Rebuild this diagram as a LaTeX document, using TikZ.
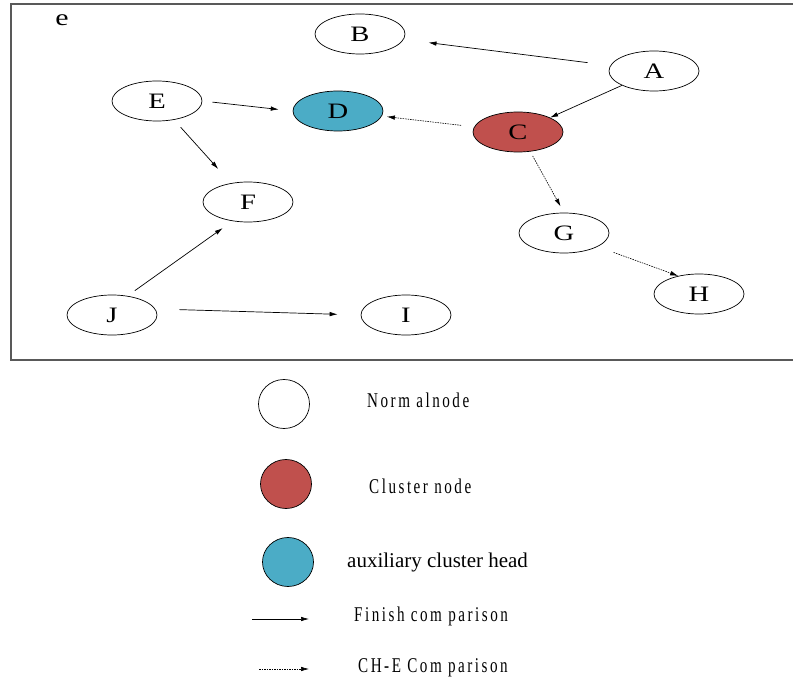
\documentclass[tikz,border=0pt]{standalone}
\usepackage{fontspec}
\setmainfont{Liberation Serif}
\newfontfamily\labelfont[FakeStretch=1.3]{Liberation Serif}
\newfontfamily\keyfont[FakeStretch=0.72,LetterSpace=12]{Liberation Serif}
\usetikzlibrary{arrows.meta}
\usetikzlibrary{shapes.geometric}

\definecolor{clusterred}{RGB}{192,80,77}
\definecolor{auxblue}{RGB}{75,172,198}

\tikzset{
  netnode/.style={draw, ellipse, minimum width=90pt, minimum height=40pt, inner sep=0pt,
    line width=0.7pt, font={\labelfont\fontsize{22}{22}\selectfont}},
  headnode/.style={netnode, fill=clusterred},
  auxnode/.style={netnode, fill=auxblue},
  keydot/.style={draw, ellipse, minimum width=51pt, minimum height=49pt, inner sep=0pt, line width=0.7pt},
  keytext/.style={anchor=west, inner sep=0pt, font={\keyfont\fontsize{21}{21}\selectfont}},
  done/.style={-{Latex[length=8pt,width=4.5pt]}, line width=0.7pt},
  cmp/.style={done, dash pattern=on 1.5pt off 1pt, line width=0.6pt},
}

\begin{document}
\begin{tikzpicture}[x=1pt,y=-1pt]
                \useasboundingbox (0,0) rectangle (793,682);
                \draw[gray!70!black, line width=1.5pt] (793,4) -- (11,4) -- (11,360) -- (793,360);

                \node[font={\labelfont\fontsize{23}{23}\selectfont}] (tag) at (62,20) {e};

                \node[netnode] (A) at (654,71) {A};
                \node[netnode] (B) at (360,34) {B};
                \node[headnode] (C) at (518,132) {C};
                \node[auxnode] (D) at (338,111) {D};
                \node[netnode] (E) at (157,101) {E};
                \node[netnode] (F) at (248,202) {F};
                \node[netnode] (G) at (564,233) {G};
                \node[netnode] (H) at (699,294) {H};
                \node[netnode] (I) at (406,315) {I};
                \node[netnode] (J) at (112,315) {J};

                \draw[done, shorten <=23pt, shorten >=25pt] (A) -- (B);
                \draw[done] (A) -- (C);
                \draw[cmp, shorten <=13pt, shorten >=5pt] (C) -- (D);
                \draw[cmp, shorten <=5pt, shorten >=7pt] (C.-58) -- (G.90);
                \draw[cmp, shorten <=17pt] (G.-22.6) -- (H.139.4);
                \draw[done, shorten <=10pt, shorten >=14pt] (E.east) -- (D.west);
                \draw[done, shorten <=10pt, shorten >=19pt] (E) -- (F);
                \draw[done, shorten <=9pt, shorten >=12pt] (J.51) -- (F.231);
                \draw[done, shorten <=24pt, shorten >=23pt] (J.8) -- (I.west);

                \node[keydot] (k1) at (284,404) {};
                \node[keydot, fill=clusterred] (k2) at (286,484) {};
                \node[keydot, fill=auxblue] (k3) at (288,562) {};
                \coordinate (s0) at (252,619);
                \coordinate (s1) at (309,619);
                \coordinate (d0) at (259,669);
                \coordinate (d1) at (309,669);
                \draw[done] (s0) -- (s1);
                \draw[cmp] (d0) -- (d1);

                \node[keytext] (t1) at (367,400) {Norm alnode};
                \node[keytext] (t2) at (369,486) {Cluster node};
                \node[anchor=west, inner sep=0pt, font={\fontsize{21}{21}\selectfont}] (t3) at (347,562) {auxiliary cluster head};
                \node[keytext] (t4) at (354,616) {Finish com parison};
                \node[keytext] (t5) at (358,668) {CH-E Com parison};
            \end{tikzpicture}
\end{document}
